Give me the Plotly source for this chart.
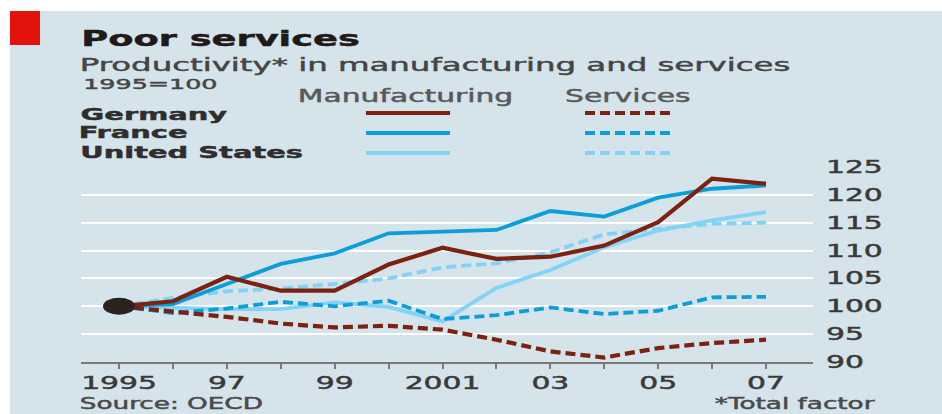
import plotly.graph_objects as go

# Productivity index, 1995 = 100
years = list(range(1995, 2008))
year_labels = ["1995", "", "97", "", "99", "", "2001", "", "03", "", "05", "", "07"]
base = 100

germany_manufacturing = [100, 100.9, 105.3, 102.8, 102.8, 107.5, 110.5, 108.5, 108.9, 110.9, 115.1, 122.9, 122.0]
france_manufacturing = [100, 100.4, 104.0, 107.6, 109.5, 113.1, 113.4, 113.7, 117.1, 116.1, 119.5, 121.1, 121.7]
us_manufacturing = [100, 99.7, 99.5, 99.5, 100.7, 99.9, 97.3, 103.3, 106.5, 110.6, 113.6, 115.4, 116.9]

germany_services = [100, 99.0, 98.1, 96.9, 96.2, 96.5, 95.8, 94.0, 91.9, 90.8, 92.5, 93.4, 94.0]
france_services = [100, 98.8, 99.6, 100.8, 100.0, 101.0, 97.7, 98.4, 99.8, 98.6, 99.2, 101.6, 101.7]
us_services = [100, 101.5, 102.7, 103.2, 104.0, 105.0, 107.0, 107.7, 109.7, 112.9, 113.9, 114.8, 115.0]

y_ticks = [90, 95, 100, 105, 110, 115, 120, 125]

countries = ["Germany", "France", "United States"]
colours = {"Germany": "#7b2211", "France": "#0b9ed8", "United States": "#82d3f6"}

BG = "#d5e3eb"
DASH = "10px,5px"
FONT = "DejaVu Sans"

W, H = 942, 414
L, R, T, B = 81, 129, 167, 52
PW, PH = W - L - R, H - T - B


def px(x):
    return (x - L) / PW


def py(y):
    return (H - B - y) / PH


series = [
    ("United States", "Services", us_services),
    ("United States", "Manufacturing", us_manufacturing),
    ("France", "Services", france_services),
    ("France", "Manufacturing", france_manufacturing),
    ("Germany", "Services", germany_services),
    ("Germany", "Manufacturing", germany_manufacturing),
]

fig = go.Figure()
for country, sector, values in series:
    fig.add_trace(go.Scatter(
        x=years, y=values, mode="lines",
        name=f"{country} {sector}",
        line=dict(color=colours[country], width=4.2 if country == "Germany" else 3.8,
                  dash="solid" if sector == "Manufacturing" else DASH),
        hoverinfo="skip",
    ))

shapes = [
    # white margin above and left of the panel
    dict(type="rect", xref="paper", yref="paper", x0=px(-80), x1=px(W + 20), y0=py(11), y1=py(-30),
         fillcolor="white", line_width=0, layer="above"),
    dict(type="rect", xref="paper", yref="paper", x0=px(-80), x1=px(10), y0=py(H + 20), y1=py(-30),
         fillcolor="white", line_width=0, layer="above"),
    # red tab
    dict(type="rect", xref="paper", yref="paper", x0=px(10), x1=px(40), y0=py(45), y1=py(11),
         fillcolor="#e3120b", line_width=0, layer="above"),
    # index base line
    dict(type="line", xref="paper", yref="y", x0=0, x1=1, y0=base, y1=base,
         line=dict(color="#e57f80", width=1.3), layer="between"),
    # base-year marker
    dict(type="circle", xref="x", yref="y", xsizemode="pixel", ysizemode="pixel",
         xanchor=years[0], yanchor=base, x0=-16, x1=16, y0=-8.5, y1=8.5,
         fillcolor="#2b221e", line_width=0, layer="above"),
]

# key swatches
for i, country in enumerate(countries):
    yy = py(113 + 20 * i)
    shapes.append(dict(type="line", xref="paper", yref="paper", x0=px(366), x1=px(450), y0=yy, y1=yy,
                       line=dict(color=colours[country], width=4), layer="above"))
    shapes.append(dict(type="line", xref="paper", yref="paper", x0=px(585), x1=px(670), y0=yy, y1=yy,
                       line=dict(color=colours[country], width=4, dash=DASH), layer="above"))

annotations = []


def label(text, cx, cy, size, color, bold=False):
    annotations.append(dict(
        text=text, xref="paper", yref="paper", x=px(cx), y=py(cy),
        xanchor="center", yanchor="middle", showarrow=False,
        font=dict(family=FONT, size=size, color=color, weight="bold" if bold else "normal"),
    ))


label("Poor services", 220, 39, 21, "#1f1a17", bold=True)
label("Productivity* in manufacturing and services", 435, 64, 18.5, "#454545")
label("1995=100", 150, 83.5, 14.5, "#454545")
label("Manufacturing", 405, 96.5, 17, "#595959")
label("Services", 628, 96.5, 17, "#595959")
label("Germany", 154, 114.5, 16.5, "#2e2e2e", bold=True)
label("France", 132.5, 132.5, 16.5, "#2e2e2e", bold=True)
label("United States", 191, 152.5, 16.5, "#2e2e2e", bold=True)
label("Source: OECD", 171.5, 403.5, 15, "#4a4a4a")
label("*Total factor", 795, 403.5, 15, "#4a4a4a")

fig.update_layout(
    width=W, height=H, autosize=False,
    margin=dict(l=L, r=R, t=T, b=B, pad=0),
    paper_bgcolor=BG, plot_bgcolor=BG,
    showlegend=False,
    shapes=shapes,
    annotations=annotations,
    font=dict(family=FONT, color="#3a3a3a"),
    xaxis=dict(
        range=[1994.295, 2007.872], tickmode="array", tickvals=years, ticktext=year_labels,
        ticks="outside", ticklen=5, tickwidth=1.5, tickcolor="#7a7a7a",
        showgrid=False, zeroline=False, showline=True, linecolor="#7a7a7a", linewidth=1.5,
        tickfont=dict(family=FONT, size=17, color="#3a3a3a"),
    ),
    yaxis=dict(
        range=[90, 125], side="right", tickmode="array", tickvals=y_ticks,
        showgrid=True, gridcolor="white", gridwidth=1.6, zeroline=False, showline=False,
        ticks="", ticklabelstandoff=12,
        tickfont=dict(family=FONT, size=17, color="#3a3a3a"),
    ),
)

# the house lettering is set wide and heavy: stretch every label horizontally
# about its anchor and give the glyphs a thin outline in their own colour
widen = """
var gd = document.getElementById('{plot_id}');
var k = 1.75;
gd.querySelectorAll('svg text').forEach(function (t) {
  if (!t.textContent.trim() || t.getAttribute('lengthAdjust')) return;
  var w = t.getComputedTextLength();
  if (w > 0) {
    t.setAttribute('textLength', (w * k).toFixed(1));
    t.setAttribute('lengthAdjust', 'spacingAndGlyphs');
    var fill = window.getComputedStyle(t).fill;
    t.style.stroke = fill;
    t.style.strokeWidth = '0.45px';
  }
});
"""

fig.write_html("out.html", post_script=widen)
